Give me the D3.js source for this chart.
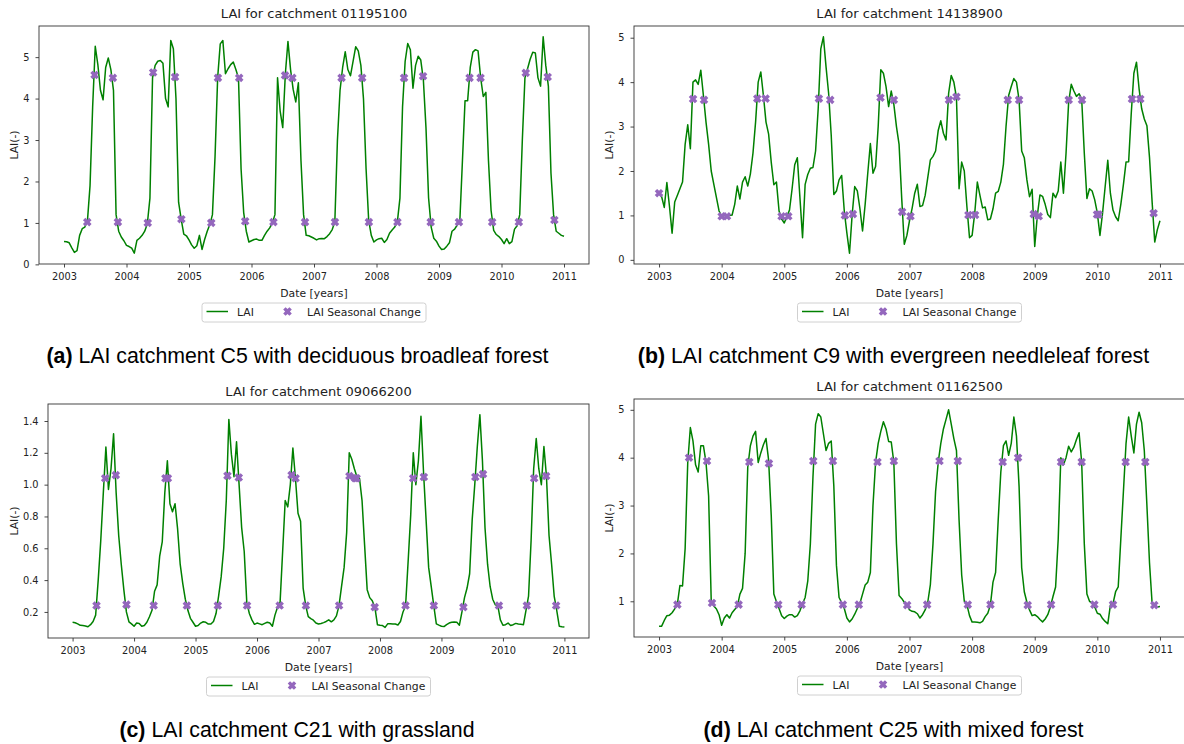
<!DOCTYPE html>
<html>
<head>
<meta charset="utf-8">
<script src="https://cdn.jsdelivr.net/npm/d3@7"></script>
<style>
  html, body { margin: 0; padding: 0; background: #ffffff; }
  svg { display: block; }
</style>
</head>
<body>
<svg id="fig" width="1184" height="744"></svg>
<script>
// ---------------------------------------------------------------------------
// Data: LAI time series, semi-monthly steps starting 2003-01-01 (24 per year),
// plus the dates (decimal years) and values of detected seasonal changes.
// ---------------------------------------------------------------------------
const yearTicks = [2003, 2004, 2005, 2006, 2007, 2008, 2009, 2010, 2011];
const startYear = 2003;
const stepsPerYear = 24;

// (a) catchment 01195100 – deciduous broadleaf forest
const laiA = [
  0.55,0.545,0.52,0.4,0.29,0.33,0.7,0.86,0.9,1.05,1.9,3.8,5.26,4.82,4.2,3.97,4.75,4.98,4.7,4.2,1.2,0.8,0.66,0.57,
  0.46,0.43,0.39,0.27,0.58,0.63,0.7,0.8,0.98,1.6,4.5,4.8,4.9,4.92,4.85,4.0,3.8,5.4,5.2,4.0,1.5,1.09,0.73,0.69,
  0.59,0.47,0.39,0.45,0.7,0.36,0.6,0.8,0.96,1.2,2.6,4.5,5.32,5.4,4.6,4.72,4.82,4.88,4.7,4.5,2.3,1.25,0.8,0.54,
  0.57,0.6,0.61,0.58,0.58,0.7,0.8,0.88,1.0,1.2,4.5,3.7,3.3,4.6,5.38,4.7,4.22,3.92,4.38,2.5,1.2,0.7,0.69,0.66,
  0.63,0.59,0.62,0.625,0.62,0.67,0.74,0.84,1.02,3.0,4.2,4.75,5.13,4.7,4.55,4.9,5.25,5.15,4.8,4.0,2.3,1.06,0.7,0.54,
  0.59,0.62,0.63,0.53,0.6,0.75,0.83,0.9,1.02,1.6,3.8,4.9,5.33,5.18,4.25,4.8,5.02,4.93,4.45,3.3,1.6,0.9,0.63,0.56,
  0.44,0.36,0.37,0.44,0.52,0.8,0.85,0.95,1.05,2.5,3.95,3.95,4.75,5.12,5.18,5.15,4.5,4.05,4.15,2.5,1.3,0.82,0.72,0.67,
  0.6,0.5,0.62,0.5,0.55,0.85,0.93,1.2,3.0,4.5,4.72,4.95,5.12,5.1,4.5,4.3,5.49,4.8,4.3,2.2,1.2,0.8,0.75,0.7,
  0.68
];
const changeA_t = [2003.372,2003.489,2003.782,2003.862,2004.34,2004.426,2004.777,2004.878,
  2005.356,2005.463,2005.803,2005.899,2006.351,2006.537,2006.654,2006.856,
  2007.335,2007.441,2007.771,2007.878,2008.335,2008.441,2008.745,2008.867,
  2009.319,2009.489,2009.665,2009.851,2010.277,2010.388,2010.739,2010.846];
const changeA_v = [1.02,4.57,4.5,1.02,1.0,4.63,4.52,1.09,1.0,4.5,4.5,1.04,1.02,4.56,4.5,1.02,
  1.02,4.5,4.5,1.02,1.02,4.5,4.54,1.02,1.02,4.5,4.5,1.02,1.02,4.62,4.52,1.07];

// (b) catchment 14138900 – evergreen needleleaf forest
const laiB = [
  1.5,1.42,1.18,1.74,1.2,0.6,1.3,1.45,1.6,1.75,2.6,3.04,2.5,4.0,4.05,3.95,4.27,3.7,3.1,2.6,2.0,1.7,1.4,1.1,
  0.98,1.0,1.0,1.0,1.01,1.25,1.66,1.37,1.75,1.87,1.66,1.93,2.4,3.1,4.0,4.23,3.7,3.1,2.83,2.2,1.69,1.75,1.1,0.92,
  0.83,0.98,1.12,1.6,2.14,2.3,1.4,0.5,1.7,1.92,2.06,2.08,2.45,3.4,4.75,5.02,4.35,3.75,2.8,1.47,1.55,1.8,1.9,1.1,
  0.6,0.15,1.0,1.65,1.55,1.15,0.65,1.25,1.95,2.62,1.95,2.1,3.0,4.28,4.2,3.9,3.45,3.8,3.5,3.0,2.6,1.4,0.35,0.55,
  0.88,1.16,1.5,1.7,1.2,1.22,1.45,1.85,2.25,2.33,2.45,2.91,3.13,2.85,2.7,3.75,4.15,4.0,3.65,1.6,2.2,2.0,1.2,0.5,
  0.55,1.05,1.75,1.45,1.17,1.19,0.9,0.92,1.15,1.5,1.54,1.75,2.15,3.0,3.7,3.9,4.08,4.0,3.6,2.45,2.3,1.8,1.42,1.59,
  0.3,1.0,1.46,1.43,1.25,1.02,0.95,1.5,1.4,1.55,2.2,1.5,2.4,3.55,3.95,3.8,3.68,3.74,3.62,2.4,1.38,1.6,1.55,1.35,
  1.05,0.55,1.05,1.65,2.24,1.5,1.12,0.97,0.88,1.25,1.7,2.2,2.21,3.3,4.2,4.45,3.85,3.4,3.17,3.02,2.3,1.3,0.4,0.68,
  0.88
];
const changeB_t = [2003.0,2003.543,2003.718,2004.0,2004.085,2004.569,2004.702,2004.957,
  2005.064,2005.553,2005.734,2005.968,2006.096,2006.537,2006.75,2006.883,
  2007.016,2007.63,2007.75,2007.941,2008.048,2008.569,2008.75,2008.984,
  2009.064,2009.543,2009.755,2009.995,2010.02,2010.553,2010.686,2010.899];
const changeB_v = [1.5,3.62,3.6,0.98,0.98,3.63,3.63,0.98,0.98,3.63,3.6,1.0,1.03,3.65,3.6,1.08,
  0.98,3.6,3.67,1.01,1.01,3.6,3.6,1.03,0.98,3.6,3.6,1.02,1.02,3.62,3.62,1.05];

// (c) catchment 09066200 – grassland
const laiC = [
  0.135,0.132,0.125,0.116,0.114,0.112,0.107,0.12,0.14,0.18,0.4,0.65,0.95,1.236,0.97,1.1,1.32,0.95,0.68,0.5,0.34,0.2,0.138,0.125,
  0.11,0.13,0.128,0.11,0.115,0.135,0.17,0.21,0.33,0.37,0.55,0.64,0.95,1.15,0.88,0.83,0.88,0.72,0.5,0.38,0.28,0.21,0.16,0.135,
  0.11,0.115,0.13,0.138,0.135,0.124,0.124,0.14,0.19,0.3,0.42,0.6,0.9,1.41,1.19,1.05,1.27,1.0,0.73,0.58,0.26,0.19,0.15,0.122,
  0.13,0.125,0.12,0.128,0.135,0.13,0.11,0.18,0.23,0.26,0.58,0.9,0.86,1.0,1.23,1.04,0.82,0.77,0.35,0.24,0.17,0.158,0.148,0.13,
  0.124,0.127,0.133,0.14,0.15,0.138,0.15,0.175,0.24,0.36,0.48,0.7,1.2,1.16,1.1,1.05,1.04,0.9,0.62,0.34,0.29,0.27,0.23,0.12,
  0.116,0.114,0.103,0.125,0.126,0.124,0.124,0.118,0.14,0.2,0.24,0.52,0.81,1.2,1.0,1.15,1.43,1.08,0.78,0.48,0.36,0.24,0.125,0.117,
  0.11,0.108,0.12,0.13,0.135,0.137,0.135,0.117,0.2,0.29,0.35,0.44,0.78,1.0,1.24,1.44,1.15,0.73,0.5,0.36,0.28,0.245,0.24,0.15,
  0.116,0.12,0.13,0.115,0.12,0.128,0.124,0.122,0.12,0.21,0.3,0.65,1.1,1.29,1.1,1.0,1.24,1.05,0.68,0.5,0.3,0.21,0.11,0.107,
  0.105
];
const changeC_t = [2003.389,2003.53,2003.703,2003.876,2004.319,2004.51,2004.55,2004.859,
  2005.362,2005.519,2005.703,2005.838,2006.368,2006.562,2006.627,2006.795,
  2007.335,2007.503,2007.595,2007.62,2007.914,2008.416,2008.54,2008.714,2008.876,
  2009.357,2009.551,2009.676,2009.935,2010.389,2010.508,2010.703,2010.865];
const changeC_v = [0.24,1.04,1.06,0.246,0.24,1.04,1.04,0.24,0.24,1.056,1.045,0.24,0.24,1.06,1.04,0.24,
  0.24,1.054,1.04,1.04,0.23,0.24,1.04,1.048,0.24,0.23,1.048,1.066,0.24,0.24,1.04,1.054,0.24];

// (d) catchment 01162500 – mixed forest
const laiD = [
  0.48,0.48,0.6,0.7,0.71,0.76,0.84,0.93,1.33,1.32,2.1,3.9,4.63,4.35,3.85,3.7,4.25,4.25,3.9,3.2,1.0,0.9,0.84,0.72,
  0.5,0.65,0.72,0.65,0.76,0.83,0.89,1.15,1.27,2.0,3.8,4.25,4.45,4.55,3.9,4.1,4.27,4.4,3.95,2.8,1.15,0.99,0.85,0.7,
  0.64,0.69,0.72,0.72,0.67,0.7,0.8,0.95,1.08,1.42,2.2,3.6,4.7,4.92,4.85,4.5,4.15,4.3,4.35,3.4,1.75,1.08,0.97,0.85,
  0.65,0.57,0.63,0.73,0.85,0.96,1.15,1.34,1.4,1.6,3.0,3.9,4.3,4.55,4.75,4.6,4.34,4.33,3.9,2.2,1.12,1.06,0.98,0.93,
  0.82,0.79,0.78,0.74,0.65,0.72,0.82,0.98,1.35,2.2,3.3,3.9,4.3,4.6,4.8,5.0,4.7,4.4,4.15,2.7,1.55,1.0,0.93,0.7,
  0.565,0.565,0.56,0.55,0.58,0.68,0.75,0.92,1.4,1.6,2.7,3.7,4.25,4.35,4.05,4.3,4.85,4.45,3.4,1.7,1.2,0.98,0.82,0.7,
  0.72,0.68,0.62,0.57,0.63,0.72,0.88,1.1,1.3,2.3,4.0,3.85,4.0,4.24,4.12,4.22,4.38,4.52,3.9,2.2,1.15,1.0,0.96,0.88,
  0.75,0.73,0.64,0.58,0.53,0.92,0.95,1.2,1.3,2.3,3.3,4.3,4.85,4.45,4.1,4.7,4.95,4.73,4.15,3.0,1.8,0.95,0.9,0.88,
  0.89
];
const changeD_t = [2003.293,2003.479,2003.766,2003.846,2004.271,2004.441,2004.755,2004.904,
  2005.277,2005.463,2005.777,2005.936,2006.191,2006.489,2006.75,2006.963,
  2007.282,2007.479,2007.771,2007.931,2008.293,2008.489,2008.734,2008.888,
  2009.261,2009.42,2009.75,2009.952,2010.25,2010.452,2010.766,2010.91];
const changeD_v = [0.93,4.0,3.93,0.965,0.93,3.91,3.88,0.93,0.93,3.93,3.93,0.93,0.93,3.91,3.93,0.92,
  0.93,3.93,3.93,0.93,0.93,3.91,4.0,0.92,0.93,3.91,3.91,0.93,0.93,3.91,3.91,0.92];

// ---------------------------------------------------------------------------
// Panel layout and text
// ---------------------------------------------------------------------------
const panels = [
  { tag: "(a)", caption: " LAI catchment C5 with deciduous broadleaf forest", catchment: "01195100",
    lai: laiA, ct: changeA_t, cv: changeA_v, yTicks: [0,1,2,3,4,5], yFmt: "d",
    box: { l: 39, t: 26, r: 589, b: 264 }, ylabelX: 14, captionX: 297.5, captionY: 363 },
  { tag: "(b)", caption: " LAI catchment C9 with evergreen needleleaf forest", catchment: "14138900",
    lai: laiB, ct: changeB_t, cv: changeB_v, yTicks: [0,1,2,3,4,5], yFmt: "d",
    box: { l: 634, t: 26, r: 1185, b: 264 }, ylabelX: 609, captionX: 893.5, captionY: 363 },
  { tag: "(c)", caption: " LAI catchment C21 with grassland", catchment: "09066200",
    lai: laiC, ct: changeC_t, cv: changeC_v, yTicks: [0.2,0.4,0.6,0.8,1.0,1.2,1.4], yFmt: ".1f",
    box: { l: 48, t: 404, r: 589, b: 638 }, ylabelX: 14, captionX: 297, captionY: 737 },
  { tag: "(d)", caption: " LAI catchment C25 with mixed forest", catchment: "01162500",
    lai: laiD, ct: changeD_t, cv: changeD_v, yTicks: [1,2,3,4,5], yFmt: "d",
    box: { l: 634, t: 399, r: 1185, b: 637 }, ylabelX: 609, captionX: 893.5, captionY: 737 }
];

const lineColor = "green";
const markColor = "#9467bd";
const textColor = "#222";
const chartFont = "'DejaVu Sans', sans-serif";
const captionFont = "'Liberation Sans', Arial, sans-serif";

// Filled "X" marker: a plus sign rotated by 45 degrees
function xMarkerPath(size) {
  const a = size / 2, w = size / 5.2;
  const pts = [[-w,-a],[w,-a],[w,-w],[a,-w],[a,w],[w,w],[w,a],[-w,a],[-w,w],[-a,w],[-a,-w],[-w,-w]];
  const c = Math.SQRT1_2;
  return "M" + pts.map(([px, py]) => [(px - py) * c, (px + py) * c].map(v => v.toFixed(3)).join(",")).join("L") + "Z";
}
const markerD = xMarkerPath(8.8);

const svg = d3.select("#fig");
svg.append("rect").attr("width", 1184).attr("height", 744).attr("fill", "#fff");

panels.forEach((p, pi) => {
  const g = svg.append("g");
  const { l, t, r, b } = p.box;

  const series = p.lai.map((v, i) => ({ t: startYear + i / stepsPerYear, v }));
  const marks = p.ct.map((tt, i) => ({ t: tt, v: p.cv[i] }));

  // Axis limits with 5% padding around the data
  const tExt = d3.extent(series, d => d.t);
  const tPad = (tExt[1] - tExt[0]) * 0.05;
  const x = d3.scaleLinear().domain([tExt[0] - tPad, tExt[1] + tPad]).range([l, r]);
  const vExt = d3.extent(p.lai.concat(p.cv));
  const vPad = (vExt[1] - vExt[0]) * 0.05;
  const y = d3.scaleLinear().domain([vExt[0] - vPad, vExt[1] + vPad]).range([b, t]);

  const clipId = "clip" + pi;
  g.append("clipPath").attr("id", clipId)
    .append("rect").attr("x", l).attr("y", t).attr("width", r - l).attr("height", b - t);

  // LAI line
  g.append("path")
    .datum(series)
    .attr("clip-path", `url(#${clipId})`)
    .attr("fill", "none")
    .attr("stroke", lineColor)
    .attr("stroke-width", 1.5)
    .attr("stroke-linejoin", "round")
    .attr("d", d3.line().x(d => x(d.t)).y(d => y(d.v)));

  // Seasonal change markers
  g.append("g").selectAll("path")
    .data(marks)
    .join("path")
    .attr("d", markerD)
    .attr("transform", d => `translate(${x(d.t)},${y(d.v)})`)
    .attr("fill", markColor);

  // Axes
  const xAxis = d3.axisBottom(x).tickValues(yearTicks).tickFormat(d3.format("d"))
    .tickSize(3.5).tickPadding(6).tickSizeOuter(0);
  const yAxis = d3.axisLeft(y).tickValues(p.yTicks).tickFormat(d3.format(p.yFmt))
    .tickSize(3.5).tickPadding(6).tickSizeOuter(0);

  const gx = g.append("g").attr("transform", `translate(0,${b})`).call(xAxis);
  const gy = g.append("g").attr("transform", `translate(${l},0)`).call(yAxis);
  [gx, gy].forEach(ax => {
    ax.select(".domain").remove();
    ax.selectAll(".tick line").attr("stroke", "#333").attr("stroke-width", 0.9);
    ax.selectAll(".tick text").attr("fill", textColor)
      .style("font-family", chartFont).style("font-size", "9.8px");
  });

  // Frame
  g.append("rect")
    .attr("x", l).attr("y", t).attr("width", r - l).attr("height", b - t)
    .attr("fill", "none").attr("stroke", "#333").attr("stroke-width", 0.9);

  const cx = (l + r) / 2;

  // Title
  g.append("text")
    .attr("x", cx).attr("y", t - 8)
    .attr("text-anchor", "middle")
    .attr("fill", textColor)
    .style("font-family", chartFont).style("font-size", "13px")
    .text("LAI for catchment " + p.catchment);

  // Axis labels
  g.append("text")
    .attr("x", cx).attr("y", b + 33)
    .attr("text-anchor", "middle")
    .attr("fill", textColor)
    .style("font-family", chartFont).style("font-size", "10.8px")
    .text("Date [years]");

  g.append("text")
    .attr("transform", `translate(${p.ylabelX + 3.8},${(t + b) / 2}) rotate(-90)`)
    .attr("text-anchor", "middle")
    .attr("fill", textColor)
    .style("font-family", chartFont).style("font-size", "10.8px")
    .text("LAI(-)");

  // Legend below the axes
  const lg = g.append("g");
  const boxW = 224, boxH = 19;
  const lx = cx - boxW / 2, ly = b + 39;
  lg.append("rect")
    .attr("x", lx).attr("y", ly).attr("width", boxW).attr("height", boxH)
    .attr("rx", 2.5).attr("fill", "#fff").attr("fill-opacity", 0.8)
    .attr("stroke", "#d0d0d0").attr("stroke-width", 1);
  lg.append("line")
    .attr("x1", lx + 4.5).attr("x2", lx + 26)
    .attr("y1", ly + 8.5).attr("y2", ly + 8.5)
    .attr("stroke", lineColor).attr("stroke-width", 1.5);
  lg.append("text")
    .attr("x", lx + 35).attr("y", ly + 12.5)
    .attr("fill", textColor)
    .style("font-family", chartFont).style("font-size", "10.8px")
    .text("LAI");
  lg.append("path")
    .attr("d", markerD)
    .attr("transform", `translate(${lx + 85.5},${ly + 8.5})`)
    .attr("fill", markColor);
  lg.append("text")
    .attr("x", lx + 105).attr("y", ly + 12.5)
    .attr("fill", textColor)
    .style("font-family", chartFont).style("font-size", "10.8px")
    .text("LAI Seasonal Change");

  // Sub-figure caption
  const cap = svg.append("text")
    .attr("x", p.captionX).attr("y", p.captionY)
    .attr("text-anchor", "middle")
    .attr("fill", "#000")
    .style("font-family", captionFont).style("font-size", "21.3px");
  cap.append("tspan").attr("font-weight", "bold").text(p.tag);
  cap.append("tspan").text(p.caption);
});
</script>
</body>
</html>
